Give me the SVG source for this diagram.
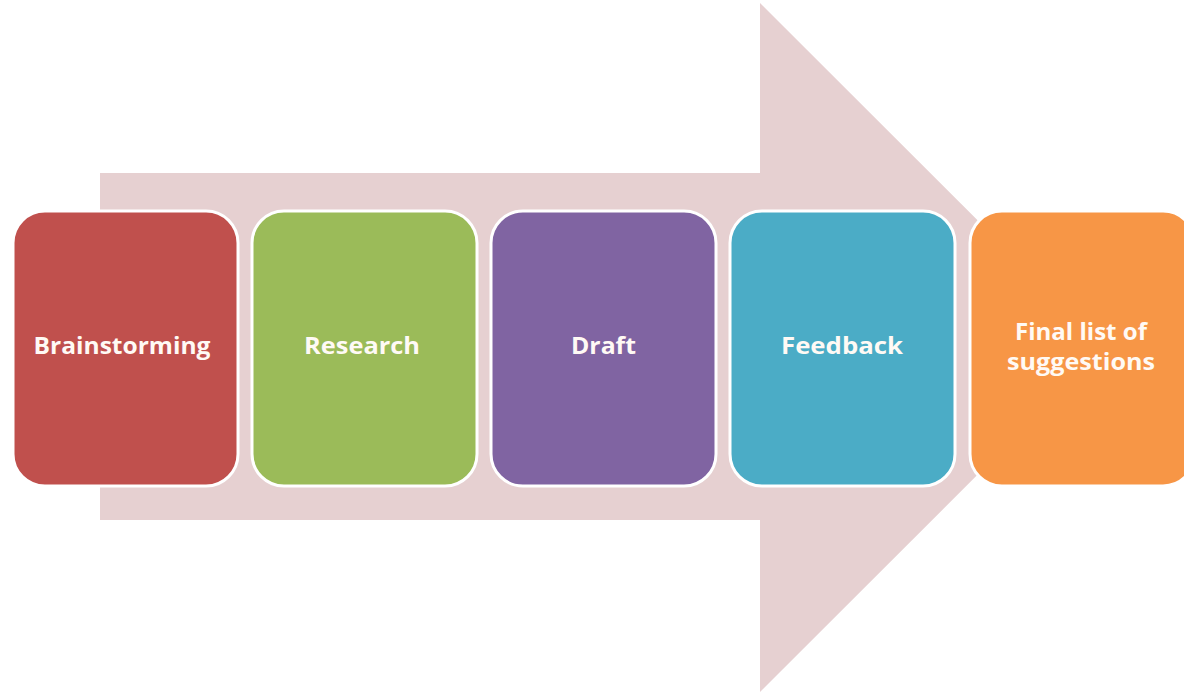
<svg xmlns="http://www.w3.org/2000/svg" width="1184" height="694" viewBox="0 0 1184 694">
  <style>
    .box { stroke: #ffffff; stroke-width: 3; }
    .label { font-family: "Open Sans", Lato, "Liberation Sans", sans-serif; font-weight: bold; font-size: 23px; fill: #fffaf5; text-anchor: middle; }
  </style>
  <rect width="1184" height="694" fill="#ffffff"/>
  <!-- background process arrow -->
  <g id="connectors">
    <path d="M100,173 L760,173 L760,3 L1105,347.5 L760,692 L760,520 L100,520 Z" fill="#e6d0d1"/>
  </g>
  <g id="brainstorming">
    <rect class="box" x="13" y="211" width="225" height="275" rx="32" fill="#c0504d"/>
    <text class="label" x="122" y="354" textLength="177" lengthAdjust="spacingAndGlyphs">Brainstorming</text>
  </g>
  <g id="research">
    <rect class="box" x="252" y="211" width="225" height="275" rx="32" fill="#9bbb59"/>
    <text class="label" x="362" y="354" textLength="116" lengthAdjust="spacingAndGlyphs">Research</text>
  </g>
  <g id="draft">
    <rect class="box" x="491" y="211" width="225" height="275" rx="32" fill="#8064a2"/>
    <text class="label" x="603.5" y="354" textLength="65" lengthAdjust="spacingAndGlyphs">Draft</text>
  </g>
  <g id="feedback">
    <rect class="box" x="730" y="211" width="225" height="275" rx="32" fill="#4bacc6"/>
    <text class="label" x="842" y="354" textLength="122" lengthAdjust="spacingAndGlyphs">Feedback</text>
  </g>
  <g id="final">
    <rect class="box" x="970" y="211" width="225" height="275" rx="32" fill="#f79646"/>
    <text class="label" x="1081" y="340" textLength="132" lengthAdjust="spacingAndGlyphs">Final list of</text>
    <text class="label" x="1081" y="370" textLength="148" lengthAdjust="spacingAndGlyphs">suggestions</text>
  </g>
</svg>
